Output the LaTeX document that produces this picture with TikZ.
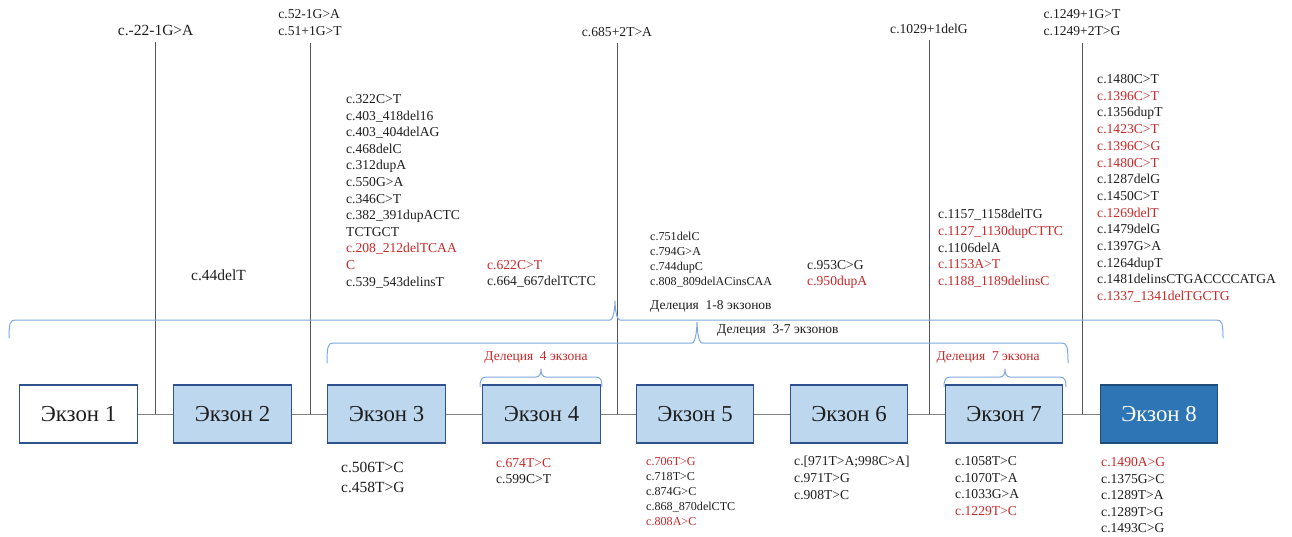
\documentclass[tikz,border=0pt]{standalone}
\usepackage{fontspec}
\setmainfont{Liberation Serif}
\definecolor{txt}{RGB}{30,30,30}
\definecolor{rd}{RGB}{200,40,40}
\definecolor{brc}{RGB}{125,168,222}
\definecolor{exfill}{RGB}{189,215,238}
\definecolor{exdraw}{RGB}{47,82,143}
\definecolor{exeight}{RGB}{46,117,182}
\definecolor{exeightd}{RGB}{31,78,121}
\definecolor{cgray}{RGB}{128,128,128}
\definecolor{vgray}{RGB}{85,85,85}
\newcommand\fsA{\fontsize{13.6}{16.6}\selectfont}
\newcommand\fsB{\fontsize{12.1}{15}\selectfont}
\newcommand\fsC{\fontsize{15.5}{20}\selectfont}
\newcommand\rdt[1]{\textcolor{rd}{#1}}
\newcommand\mybrace[6]{\draw[bracestyle] (#1,#4) .. controls (#1,{#5+4}) and ({#1+1},#5) .. ({#1+6},#5) -- ({#3-5},#5) .. controls ({#3-1},#5) and (#3,{#6+4}) .. (#3,#6) .. controls (#3,{#6+4}) and ({#3+1},#5) .. ({#3+5},#5) -- ({#2-6},#5) .. controls ({#2-1},#5) and (#2,{#5+4}) .. (#2,#4);}
\tikzset{
  exon/.style={draw=exdraw, line width=1.3pt, fill=exfill, minimum width=117.5pt, minimum height=58pt, inner sep=0pt, font=\fontsize{22.8}{27}\selectfont, text=txt},
  lst/.style={anchor=north west, align=left, inner sep=0pt, text=txt},
  toplbl/.style={align=left, inner sep=0pt, text=txt},
  conn/.style={draw=cgray, line width=1pt},
  vline/.style={draw=vgray, line width=0.9pt, shorten <=6.5pt},
  bracestyle/.style={draw=brc, line width=1pt},
  dlbl/.style={inner sep=0pt, font=\fontsize{13.5}{16}\selectfont}
}
\begin{document}
\begin{tikzpicture}[x=1pt,y=-1pt]
\fill[white] (0,0) rectangle (1292,536);
\useasboundingbox (0,0) rectangle (1292,536);

% exon boxes
\node[exon, fill=white] (e1) at (78.5,414) {Экзон 1};
\node[exon] (e2) at (232.5,414) {Экзон 2};
\node[exon] (e3) at (386.5,414) {Экзон 3};
\node[exon] (e4) at (541.5,414) {Экзон 4};
\node[exon] (e5) at (695,414) {Экзон 5};
\node[exon] (e6) at (849,414) {Экзон 6};
\node[exon] (e7) at (1004,414) {Экзон 7};
\node[exon, fill=exeight, draw=exeightd, text=white] (e8) at (1159,414) {Экзон 8};

\draw[conn] (e1) -- (e2);
\draw[conn] (e2) -- (e3);
\draw[conn] (e3) -- (e4);
\draw[conn] (e4) -- (e5);
\draw[conn] (e5) -- (e6);
\draw[conn] (e6) -- (e7);
\draw[conn] (e7) -- (e8);

% top labels
\node[toplbl, anchor=base, font=\fontsize{15.5}{18}\selectfont] (t1) at (155.7,35.5) {c.-22-1G>A};
\node[toplbl, anchor=south, font=\fontsize{13.6}{17}\selectfont] (t2) at (310,36) {c.52-1G>A\\c.51+1G>T};
\node[toplbl, anchor=base, font=\fontsize{13.6}{17}\selectfont] (t3) at (617,36) {c.685+2T>A};
\node[toplbl, anchor=base, font=\fontsize{13.6}{17}\selectfont] (t4) at (929,33) {c.1029+1delG};
\node[toplbl, anchor=south, font=\fontsize{13.6}{17}\selectfont] (t5) at (1082,36) {c.1249+1G>T\\c.1249+2T>G};

\coordinate (j1) at (155.7,414);
\coordinate (j2) at (310,414);
\coordinate (j3) at (617,414);
\coordinate (j4) at (929,414);
\coordinate (j5) at (1082,414);
\draw[vline] (t1.south) -- (t1.south |- j1);
\draw[vline] (t2.south) -- (t2.south |- j2);
\draw[vline] (t3.south) -- (t3.south |- j3);
\draw[vline] (t4.south) -- (t4.south |- j4);
\draw[vline] (t5.south) -- (t5.south |- j5);

% upper lists
\node[lst, font=\fsA] (u3) at (346,94.3) {c.322C>T\\c.403\_418del16\\c.403\_404delAG\\c.468delC\\c.312dupA\\c.550G>A\\c.346C>T\\c.382\_391dupACTC\\TCTGCT\\\rdt{c.208\_212delTCAA}\\\rdt{C}\\c.539\_543delinsT};
\node[lst, font=\fsC] (u2) at (191,269.6) {c.44delT};
\node[lst, font=\fontsize{13.6}{16}\selectfont] (u4) at (487,260.3) {\rdt{c.622C>T}\\c.664\_667delTCTC};
\node[lst, font=\fsB] (u5) at (650,231.8) {c.751delC\\c.794G>A\\c.744dupC\\c.808\_809delACinsCAA};
\node[lst, font=\fontsize{13.6}{16}\selectfont] (u6) at (807,260.3) {c.953C>G\\\rdt{c.950dupA}};
\node[lst, font=\fsA] (u7) at (938,209.3) {c.1157\_1158delTG\\\rdt{c.1127\_1130dupCTTC}\\c.1106delA\\\rdt{c.1153A>T}\\\rdt{c.1188\_1189delinsC}};
\node[lst, font=\fontsize{13.6}{16.7}\selectfont] (u8) at (1097,74.3) {c.1480C>T\\\rdt{c.1396C>T}\\c.1356dupT\\\rdt{c.1423C>T}\\\rdt{c.1396C>G}\\\rdt{c.1480C>T}\\c.1287delG\\c.1450C>T\\\rdt{c.1269delT}\\c.1479delG\\c.1397G>A\\c.1264dupT\\c.1481delinsCTGACCCCATGA\\\rdt{c.1337\_1341delTGCTG}};

% bottom lists
\node[lst, font=\fsC] (b3) at (341,461.6) {c.506T>C\\c.458T>G};
\node[lst, font=\fontsize{13.6}{16}\selectfont] (b4) at (496,458.3) {\rdt{c.674T>C}\\c.599C>T};
\node[lst, font=\fsB] (b5) at (646,456.8) {\rdt{c.706T>G}\\c.718T>C\\c.874G>C\\c.868\_870delCTC\\\rdt{c.808A>C}};
\node[lst, font=\fontsize{13.6}{17}\selectfont] (b6) at (794,456.3) {c.[971T>A;998C>A]\\c.971T>G\\c.908T>C};
\node[lst, font=\fontsize{13.6}{16.7}\selectfont] (b7) at (955,456.3) {c.1058T>C\\c.1070T>A\\c.1033G>A\\\rdt{c.1229T>C}};
\node[lst, font=\fontsize{13.6}{16.6}\selectfont] (b8) at (1101,457.3) {\rdt{c.1490A>G}\\c.1375G>C\\c.1289T>A\\c.1289T>G\\c.1493C>G};

% braces
\mybrace{9}{1223}{615}{338}{320}{301}
\mybrace{327}{1068}{697}{363}{343}{322}
\mybrace{480}{602}{541}{387}{377}{369}
\mybrace{944}{1066}{1005}{387}{377}{369}

\node[dlbl, anchor=north west, text=txt] (d18) at (650,300) {Делеция~ 1-8 экзонов};
\node[dlbl, anchor=north west, text=txt] (d37) at (717,324) {Делеция~ 3-7 экзонов};
\node[dlbl, anchor=base, text=rd] (d4) at (536,360.5) {Делеция~ 4 экзона};
\node[dlbl, anchor=base, text=rd] (d7) at (988,360) {Делеция~ 7 экзона};
\end{tikzpicture}
\end{document}
